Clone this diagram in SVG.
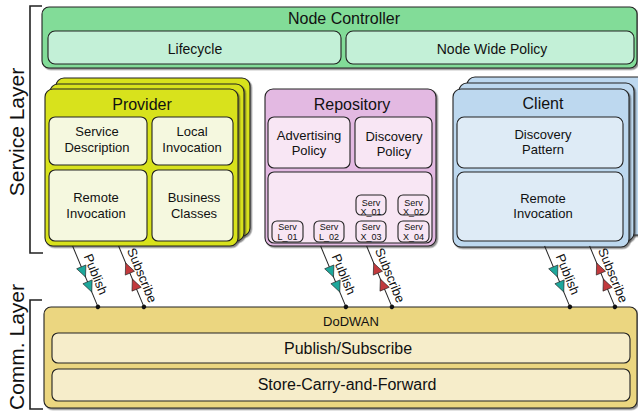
<svg xmlns="http://www.w3.org/2000/svg" xmlns:xlink="http://www.w3.org/1999/xlink" width="638" height="411" viewBox="0 0 638 411">
<defs>
<filter id="sh" x="-5%" y="-5%" width="115%" height="115%">
<feDropShadow dx="1.5" dy="1.5" stdDeviation="0.6" flood-color="#333" flood-opacity="0.55"/>
</filter>
<polygon id="aDown" points="0,0 -11,-5 -11,5"/>
<polygon id="aUp" points="0,0 11,-5 11,5"/>
</defs>
<style>
text{font-family:"Liberation Sans",Arial,sans-serif;fill:#111;}
.st{stroke:#222;stroke-width:1.1;}
.nc{fill:#82dc98;}
.nci{fill:#c3f0d7;}
.pv{fill:#d8e21b;}
.pvi{fill:#f5f8df;}
.rp{fill:#e3b9e2;}
.rpi{fill:#f8e6f4;}
.cl{fill:#bdd8ef;}
.cli{fill:#deebf6;}
.dw{fill:#ebd680;}
.dwi{fill:#f6edca;}
.t16{font-size:16px;text-anchor:middle;}
.t14{font-size:14px;text-anchor:middle;}
.t13{font-size:13px;text-anchor:middle;}
.t9{font-size:9px;text-anchor:middle;}
.big{font-size:21px;text-anchor:middle;}
.br{fill:none;stroke:#222;stroke-width:1.6;}
.ln{stroke:#222;stroke-width:1;fill:none;}
.pub{fill:#1da79b;stroke:#222;stroke-width:0.6;}
.sub{fill:#c23a3d;stroke:#222;stroke-width:0.6;}
</style>

<g id="service-layer-label">
<polyline class="br" points="42,6 30,6 30,253 43,253"/>
<text class="big" transform="translate(24,132) rotate(-90)">Service Layer</text>
</g>
<g id="comm-layer-label">
<polyline class="br" points="42,300 30,300 30,409 43,409"/>
<text class="big" font-size="20" transform="translate(24,347) rotate(-90)">Comm. Layer</text>
</g>

<g id="node-controller">
<rect class="nc st" x="42" y="7" width="595" height="61" rx="7" filter="url(#sh)"/>
<text class="t16" x="344" y="24">Node Controller</text>
<g id="lifecycle">
<rect class="nci st" x="48" y="31" width="293" height="33" rx="7"/>
<text class="t14" x="195" y="54">Lifecycle</text>
</g>
<g id="node-wide-policy">
<rect class="nci st" x="346" y="31" width="288" height="33" rx="7"/>
<text class="t14" x="492" y="54">Node Wide Policy</text>
</g>
</g>

<g id="provider">
<rect class="pv st" x="56" y="78" width="194" height="158" rx="8" filter="url(#sh)"/>
<rect class="pv st" x="50" y="84" width="194" height="157" rx="8" filter="url(#sh)"/>
<rect class="pv st" x="45" y="89" width="193" height="157" rx="8" filter="url(#sh)"/>
<text class="t16" x="142" y="110">Provider</text>
<g id="service-description">
<rect class="pvi st" x="49" y="117" width="98" height="48" rx="6"/>
<text class="t13" x="97" y="136">Service</text>
<text class="t13" x="97" y="152">Description</text>
</g>
<g id="local-invocation">
<rect class="pvi st" x="152" y="117" width="81" height="48" rx="6"/>
<text class="t13" x="192" y="136">Local</text>
<text class="t13" x="192" y="152">Invocation</text>
</g>
<g id="provider-remote-invocation">
<rect class="pvi st" x="49" y="170" width="98" height="71" rx="6"/>
<text class="t13" x="96" y="202">Remote</text>
<text class="t13" x="96" y="218">Invocation</text>
</g>
<g id="business-classes">
<rect class="pvi st" x="152" y="170" width="81" height="71" rx="6"/>
<text class="t13" x="194" y="202">Business</text>
<text class="t13" x="194" y="218">Classes</text>
</g>
</g>

<g id="repository">
<rect class="rp st" x="265" y="89" width="171" height="157" rx="8" filter="url(#sh)"/>
<text class="t16" x="352" y="110">Repository</text>
<g id="advertising-policy">
<rect class="rpi st" x="268" y="117" width="82" height="51" rx="6"/>
<text class="t13" x="309" y="140">Advertising</text>
<text class="t13" x="309" y="155">Policy</text>
</g>
<g id="discovery-policy">
<rect class="rpi st" x="355" y="117" width="77" height="51" rx="6"/>
<text class="t13" x="394" y="141">Discovery</text>
<text class="t13" x="394" y="156">Policy</text>
</g>
<g id="service-store">
<rect class="rpi st" x="268" y="172" width="164" height="71" rx="6"/>
</g>
<g id="serv-l01"><rect class="rpi st" x="272" y="221" width="31" height="21" rx="5"/><text class="t9" x="287.5" y="229.5">Serv</text><text class="t9" x="287.5" y="239.5">L_01</text></g>
<g id="serv-l02"><rect class="rpi st" x="314" y="221" width="30" height="21" rx="5"/><text class="t9" x="329" y="229.5">Serv</text><text class="t9" x="329" y="239.5">L_02</text></g>
<g id="serv-x03"><rect class="rpi st" x="356" y="221" width="30" height="21" rx="5"/><text class="t9" x="371" y="229.5">Serv</text><text class="t9" x="371" y="239.5">X_03</text></g>
<g id="serv-x04"><rect class="rpi st" x="398" y="221" width="31" height="21" rx="5"/><text class="t9" x="413.5" y="229.5">Serv</text><text class="t9" x="413.5" y="239.5">X_04</text></g>
<g id="serv-x01"><rect class="rpi st" x="356" y="195" width="30" height="20" rx="5"/><text class="t9" x="371" y="206">Serv</text><text class="t9" x="371" y="215">X_01</text></g>
<g id="serv-x02"><rect class="rpi st" x="398" y="195" width="31" height="20" rx="5"/><text class="t9" x="413.5" y="206">Serv</text><text class="t9" x="413.5" y="215">X_02</text></g>
</g>

<g id="client">
<rect class="cl st" x="467" y="77" width="180" height="158" rx="8" filter="url(#sh)"/>
<rect class="cl st" x="459" y="83" width="175" height="158" rx="8" filter="url(#sh)"/>
<rect class="cl st" x="453" y="89" width="176" height="158" rx="8" filter="url(#sh)"/>
<text class="t16" x="543" y="109">Client</text>
<g id="discovery-pattern">
<rect class="cli st" x="457" y="117" width="166" height="51" rx="7"/>
<text class="t13" x="543" y="139">Discovery</text>
<text class="t13" x="543" y="154">Pattern</text>
</g>
<g id="client-remote-invocation">
<rect class="cli st" x="457" y="172" width="166" height="69" rx="7"/>
<text class="t13" x="543" y="203">Remote</text>
<text class="t13" x="543" y="218">Invocation</text>
</g>
</g>

<g id="dodwan">
<rect class="dw st" x="44" y="307" width="593" height="101" rx="7" filter="url(#sh)"/>
<text class="t13" x="351" y="325.5">DoDWAN</text>
<g id="publish-subscribe">
<rect class="dwi st" x="52" y="333" width="578" height="30" rx="6"/>
<text class="t16" x="348" y="354">Publish/Subscribe</text>
</g>
<g id="store-carry-forward">
<rect class="dwi st" x="52" y="369" width="578" height="32" rx="6"/>
<text class="t16" x="347" y="390">Store-Carry-and-Forward</text>
</g>
</g>

<g id="connectors">
<g id="provider-publish" transform="translate(72.6,246) rotate(67.4)">
<line class="ln" x1="0" y1="0" x2="66" y2="0"/>
<use href="#aDown" class="pub" x="33.6"/><use href="#aDown" class="pub" x="49.8"/>
<circle cx="66" cy="0" r="2.3" fill="#111"/>
<text class="t13" x="35" y="-6">Publish</text>
</g>
<g id="provider-subscribe" transform="translate(118.6,246) rotate(67.4)">
<line class="ln" x1="0" y1="0" x2="66" y2="0"/>
<use href="#aUp" class="sub" x="18.4"/><use href="#aUp" class="sub" x="35.8"/>
<circle cx="66" cy="0" r="2.3" fill="#111"/>
<text class="t13" x="36" y="-6">Subscribe</text>
</g>
<g id="repository-publish" transform="translate(320.6,246) rotate(67.4)">
<line class="ln" x1="0" y1="0" x2="66" y2="0"/>
<use href="#aDown" class="pub" x="33.6"/><use href="#aDown" class="pub" x="49.8"/>
<circle cx="66" cy="0" r="2.3" fill="#111"/>
<text class="t13" x="35" y="-6">Publish</text>
</g>
<g id="repository-subscribe" transform="translate(366.6,246) rotate(67.4)">
<line class="ln" x1="0" y1="0" x2="66" y2="0"/>
<use href="#aUp" class="sub" x="18.4"/><use href="#aUp" class="sub" x="35.8"/>
<circle cx="66" cy="0" r="2.3" fill="#111"/>
<text class="t13" x="36" y="-6">Subscribe</text>
</g>
<g id="client-publish" transform="translate(544.6,246) rotate(67.4)">
<line class="ln" x1="0" y1="0" x2="66" y2="0"/>
<use href="#aDown" class="pub" x="33.6"/><use href="#aDown" class="pub" x="49.8"/>
<circle cx="66" cy="0" r="2.3" fill="#111"/>
<text class="t13" x="35" y="-6">Publish</text>
</g>
<g id="client-subscribe" transform="translate(589.6,246) rotate(67.4)">
<line class="ln" x1="0" y1="0" x2="66" y2="0"/>
<use href="#aUp" class="sub" x="18.4"/><use href="#aUp" class="sub" x="35.8"/>
<circle cx="66" cy="0" r="2.3" fill="#111"/>
<text class="t13" x="36" y="-6">Subscribe</text>
</g>
</g>
</svg>
